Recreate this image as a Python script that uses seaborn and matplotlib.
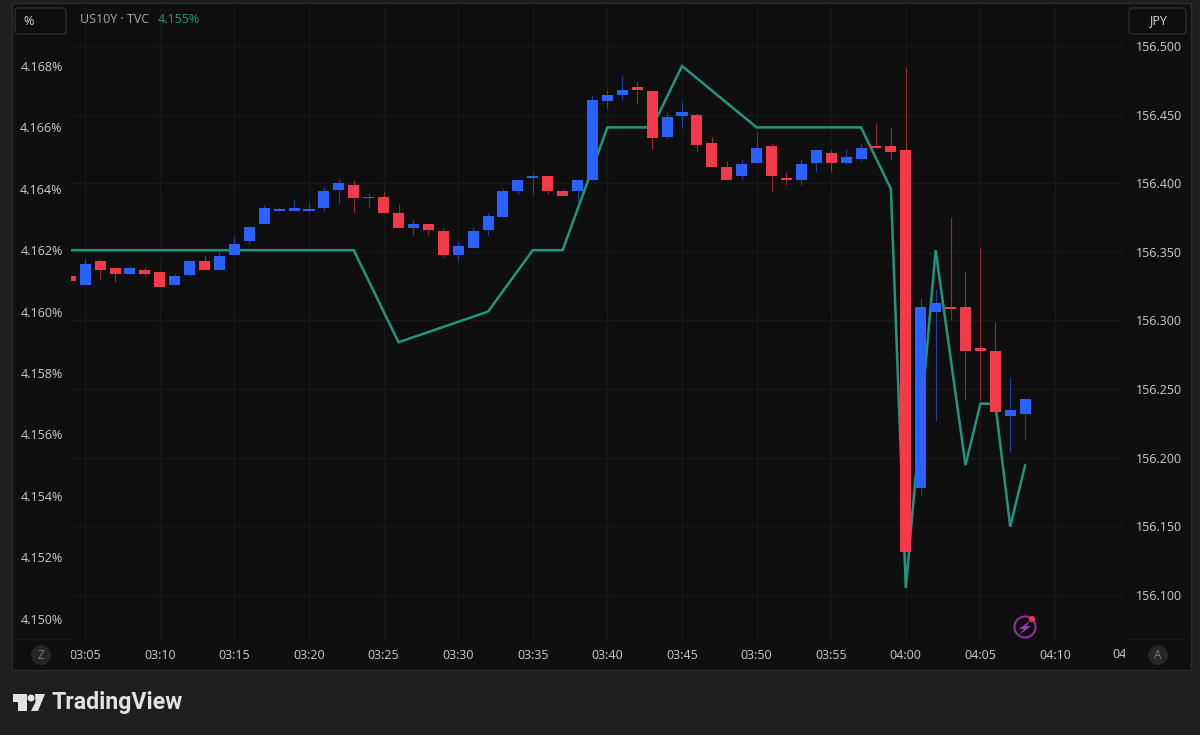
import matplotlib
matplotlib.use('Agg')
import matplotlib.pyplot as plt
import pandas as pd
import seaborn as sns
from matplotlib.patches import Circle, FancyBboxPatch, Polygon
from matplotlib.transforms import Bbox, ScaledTranslation

WIDTH, HEIGHT = 1200, 735
PLOT_LEFT, PLOT_RIGHT, PLOT_TOP, PLOT_BOTTOM = 71, 1123, 3, 640

# USD/JPY one minute candles, first one is 03:04
opens = [156.332, 156.326, 156.343, 156.338, 156.334, 156.337, 156.335, 156.326, 156.333, 156.343,
         156.337, 156.348, 156.358, 156.370, 156.380, 156.380, 156.380, 156.382, 156.395, 156.399,
         156.389, 156.390, 156.378, 156.367, 156.370, 156.365, 156.348, 156.353, 156.366, 156.375,
         156.394, 156.404, 156.405, 156.394, 156.394, 156.402, 156.460, 156.464, 156.470, 156.467,
         156.434, 156.449, 156.450, 156.429, 156.412, 156.405, 156.415, 156.427, 156.404, 156.402,
         156.415, 156.422, 156.415, 156.418, 156.427, 156.427, 156.424, 156.178, 156.306, 156.310,
         156.310, 156.280, 156.278, 156.230, 156.232]
highs = [156.335, 156.345, 156.345, 156.338, 156.340, 156.339, 156.336, 156.334, 156.343, 156.347,
         156.353, 156.361, 156.369, 156.384, 156.383, 156.388, 156.386, 156.397, 156.403, 156.402,
         156.393, 156.394, 156.385, 156.373, 156.370, 156.367, 156.358, 156.368, 156.378, 156.396,
         156.402, 156.407, 156.406, 156.396, 156.402, 156.464, 156.468, 156.478, 156.474, 156.468,
         156.452, 156.459, 156.451, 156.434, 156.416, 156.418, 156.437, 156.429, 156.408, 156.418,
         156.424, 156.424, 156.425, 156.429, 156.444, 156.440, 156.485, 156.316, 156.323, 156.375,
         156.336, 156.353, 156.299, 156.259, 156.243]
lows = [156.327, 156.326, 156.330, 156.328, 156.334, 156.332, 156.324, 156.326, 156.332, 156.337,
        156.337, 156.348, 156.356, 156.370, 156.380, 156.380, 156.379, 156.380, 156.385, 156.378,
        156.382, 156.378, 156.367, 156.362, 156.362, 156.346, 156.343, 156.353, 156.362, 156.375,
        156.392, 156.392, 156.392, 156.391, 156.386, 156.402, 156.454, 156.461, 156.458, 156.425,
        156.432, 156.440, 156.423, 156.412, 156.402, 156.403, 156.415, 156.394, 156.399, 156.399,
        156.408, 156.408, 156.414, 156.416, 156.426, 156.418, 156.131, 156.173, 156.227, 156.300,
        156.243, 156.242, 156.233, 156.204, 156.213]
closes = [156.329, 156.341, 156.337, 156.334, 156.338, 156.334, 156.324, 156.332, 156.343, 156.337,
          156.347, 156.356, 156.368, 156.382, 156.381, 156.382, 156.381, 156.394, 156.400, 156.389,
          156.390, 156.378, 156.367, 156.370, 156.366, 156.348, 156.354, 156.365, 156.376, 156.394,
          156.402, 156.405, 156.394, 156.391, 156.402, 156.461, 156.464, 156.468, 156.468, 156.433,
          156.448, 156.452, 156.428, 156.412, 156.402, 156.414, 156.426, 156.405, 156.402, 156.414,
          156.424, 156.415, 156.419, 156.426, 156.426, 156.423, 156.131, 156.310, 156.313, 156.308,
          156.278, 156.278, 156.233, 156.235, 156.243]
first_candle_minute = 3 * 60 + 4

# US10Y line (left scale)
yield_times = ['03:04', '03:23', '03:26', '03:32', '03:35', '03:37', '03:40', '03:43', '03:45',
               '03:50', '03:57', '03:59', '04:00', '04:02', '04:04', '04:05', '04:06', '04:07', '04:08']
yield_values = [4.162, 4.162, 4.159, 4.160, 4.162, 4.162, 4.166, 4.166, 4.168,
                4.166, 4.166, 4.164, 4.151, 4.162, 4.155, 4.157, 4.157, 4.153, 4.155]

yield_ticks = [4.168, 4.166, 4.164, 4.162, 4.160, 4.158, 4.156, 4.154, 4.152, 4.150]
jpy_ticks = [156.5, 156.45, 156.4, 156.35, 156.3, 156.25, 156.2, 156.15, 156.1]
time_labels = ['03:05', '03:10', '03:15', '03:20', '03:25', '03:30', '03:35', '03:40', '03:45',
               '03:50', '03:55', '04:00', '04:05', '04:10']

BG = '#1e1e1e'
PANEL = '#0f0f0f'
GRID = '#191919'
TEXT = '#cbcbcb'
TEAL = '#21967d'
RED = '#f23a4b'
BLUE = '#2962ff'


def to_minutes(label):
    hours, minutes = label.split(':')
    return int(hours) * 60 + int(minutes)


def px_to_minute(x):
    return 185 + (x - 85.2) / 14.92


def jpy_at(y):
    return 156.5 - (y - 46) * 0.05 / 68.6


def yield_at(y):
    return 4.168 - (y - 66) * 0.002 / 61.4


def draw_chrome(fig):
    # whole figure in pixel coordinates, sits behind the chart
    bg = fig.add_axes([0, 0, 1, 1], zorder=0)
    bg.set_xlim(0, WIDTH)
    bg.set_ylim(HEIGHT, 0)
    bg.axis('off')

    bg.add_patch(FancyBboxPatch((12, 3), 1179, 667, boxstyle='square,pad=0',
                                fc=PANEL, ec='#2b2b2b', lw=1))
    bg.plot([12, PLOT_LEFT], [639, 639], color=GRID, lw=0.8)
    bg.plot([PLOT_RIGHT, 1191], [639, 639], color=GRID, lw=0.8)

    for x0, x1, label, tx in [(15, 66, '%', 29), (1129, 1186, 'JPY', 1158)]:
        bg.add_patch(FancyBboxPatch((x0, 8), x1 - x0, 26, boxstyle='round,pad=0,rounding_size=4',
                                    fc='none', ec='#2e2e2e', lw=1))
        bg.text(tx, 21, label, color='#d6d6d6', fontsize=9, ha='center', va='center')

    for x, label in [(41, 'Z'), (1158, 'A')]:
        bg.add_patch(Circle((x, 655), 10, fc='#262626', ec='none'))
        bg.text(x, 655.5, label, color='#7a7a7a', fontsize=8.5, ha='center', va='center')

    # lightning badge
    bg.add_patch(Circle((1025, 627), 10.5, fc='none', ec='#93309f', lw=1.5))
    bg.add_patch(Polygon([(1031, 620), (1019, 629), (1024, 629), (1019, 635), (1031, 626), (1026, 626)],
                         fc='#a03cc0', ec='none'))
    bg.add_patch(Circle((1032, 619), 3, fc=RED, ec='none'))

    # TradingView logo
    logo = '#e2e2e2'
    bg.add_patch(Polygon([(13, 694), (27, 694), (27, 711), (18, 711), (18, 702), (13, 702)], fc=logo, ec='none'))
    bg.add_patch(Circle((31, 698), 3.5, fc=logo, ec='none'))
    bg.add_patch(Polygon([(35, 694), (45, 694), (38, 711), (31, 711), (35.5, 702)], fc=logo, ec='none'))
    bg.text(52, 703, 'TradingView', color=logo, fontsize=16.7, fontweight='bold',
            family='Roboto', ha='left', va='center')


def plot():
    sns.set_theme(style='dark', rc={'axes.grid': False})
    plt.rcParams['font.family'] = ['Open Sans', 'DejaVu Sans']

    fig = plt.figure(figsize=(WIDTH / 100, HEIGHT / 100), dpi=100, facecolor=BG)
    draw_chrome(fig)

    pos = [PLOT_LEFT / WIDTH, 1 - PLOT_BOTTOM / HEIGHT,
           (PLOT_RIGHT - PLOT_LEFT) / WIDTH, (PLOT_BOTTOM - PLOT_TOP) / HEIGHT]
    ax_jpy = fig.add_axes(pos, zorder=1)
    ax_jpy.patch.set_visible(False)
    ax_yield = ax_jpy.twinx()
    ax_candles = ax_jpy.twinx()

    # yield line, left scale
    df = pd.DataFrame({'minute': [to_minutes(t) for t in yield_times], 'value': yield_values})
    sns.lineplot(data=df, x='minute', y='value', ax=ax_yield, color=TEAL, lw=1.8, sort=False,
                 errorbar=None, solid_joinstyle='miter')
    ax_yield.set_yticks(yield_ticks, [f'{v:.3f}%' for v in yield_ticks])
    ax_yield.yaxis.tick_left()
    ax_yield.tick_params(axis='y', length=0, pad=6, labelsize=9, labelcolor=TEXT)
    ax_yield.set_xlabel('')
    ax_yield.set_ylabel('')
    ax_yield.grid(False)

    # candles, right scale
    for i, (o, h, l, c) in enumerate(zip(opens, highs, lows, closes)):
        x = first_candle_minute + i
        color = BLUE if c >= o else RED
        ax_candles.plot([x, x], [l, h], color=color, lw=0.8, alpha=0.6, solid_capstyle='butt')
        ax_candles.bar(x, max(abs(c - o), 0.0008), bottom=min(o, c), width=0.74, color=color, lw=0)
    ax_candles.set_yticks([])
    ax_candles.grid(False)

    # grid and right scale, limits go last since the x axis is shared
    ax_jpy.set_yticks(jpy_ticks, [f'{v:.3f}' for v in jpy_ticks])
    ax_jpy.yaxis.tick_right()
    ax_jpy.set_xticks([to_minutes(t) for t in time_labels], time_labels)
    ax_jpy.grid(True, color=GRID, lw=0.9)
    ax_jpy.tick_params(axis='y', length=0, pad=9.2, labelsize=9, labelcolor=TEXT)
    ax_jpy.tick_params(axis='x', length=0, pad=6.8, labelsize=9, labelcolor=TEXT)

    ax_candles.set_ylim(jpy_at(PLOT_BOTTOM), jpy_at(PLOT_TOP))
    ax_jpy.set_ylim(jpy_at(PLOT_BOTTOM), jpy_at(PLOT_TOP))
    ax_yield.set_ylim(yield_at(PLOT_BOTTOM), yield_at(PLOT_TOP))
    ax_jpy.set_xlim(px_to_minute(PLOT_LEFT), px_to_minute(PLOT_RIGHT))

    # time labels are cut at the edges of the time scale
    clip = Bbox([[PLOT_LEFT, 0], [1125, HEIGHT]])
    for label in ax_jpy.get_xticklabels():
        label.set_clip_box(clip)
        label.set_clip_on(True)
    last = ax_jpy.text(px_to_minute(1128), 0, '04:15', color=TEXT, fontsize=9, ha='center', va='center',
                       transform=ax_jpy.get_xaxis_transform() + ScaledTranslation(0, -15 / 100, fig.dpi_scale_trans))
    last.set_clip_on(True)
    last.set_clip_box(clip)

    for ax in (ax_jpy, ax_yield, ax_candles):
        for spine in ax.spines.values():
            spine.set_visible(False)

    # header goes over the grid lines
    fig.text(80 / WIDTH, 1 - 19.5 / HEIGHT, 'US10Y · TVC', color='#a9a9a9', fontsize=9, va='center', zorder=5)
    fig.text(158 / WIDTH, 1 - 19.5 / HEIGHT, '4.155%', color=TEAL, fontsize=9, va='center', zorder=5)

    fig.savefig('out.png', dpi=100, facecolor=BG)


if '__main__' == __name__:
    plot()
